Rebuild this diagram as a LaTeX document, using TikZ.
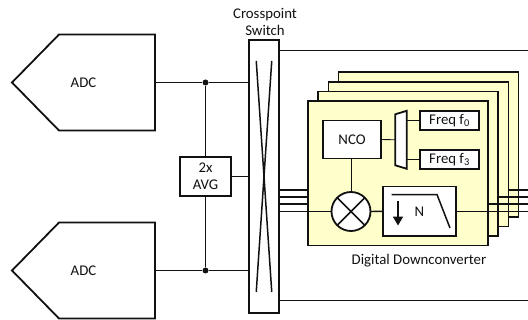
\documentclass[tikz,border=0pt]{standalone}
\usepackage{fontspec}
\setmainfont{Carlito}
\usetikzlibrary{arrows.meta,calc,positioning}
\definecolor{ddcfill}{HTML}{FFFFCC}
\definecolor{inkdark}{HTML}{111111}
\tikzset{
    ddc diagram/.style = {x=1pt, y=-1pt, font=\fontsize{14.8}{17.5}\selectfont,
                          draw=inkdark, text=inkdark},
    line/.style        = {draw=inkdark, line width=1.4pt},
    thin line/.style   = {draw=inkdark, line width=0.9pt},
    heavy/.style       = {draw=inkdark, line width=1.8pt},
    block/.style       = {heavy, fill=white, inner sep=0pt, outer sep=0pt},
    card/.style        = {heavy, fill=ddcfill, inner sep=0pt, outer sep=0pt,
                          minimum width=180pt, minimum height=144.5pt},
    freq/.style        = {block, minimum width=59pt, minimum height=19pt},
    adc/.style         = {inner sep=0pt, outer sep=0pt,
                          minimum width=143pt, minimum height=96pt},
    dot/.style         = {circle, fill=inkdark, inner sep=0pt, minimum size=6pt},
    caption/.style     = {align=center, inner sep=0pt}
}
\begin{document}
\begin{tikzpicture}[ddc diagram]
\useasboundingbox (0,0) rectangle (528,320);

% Converters, with the pointed side to the left
\node[adc] (adc1) at (83.5,82.5) {ADC};
\node[adc] (adc2) at (83.5,270.5) {ADC};
\foreach \a in {adc1, adc2}
    \draw[heavy, line join=miter] (\a.west) -- ($(\a.north west)+(47,0)$)
        -- (\a.north east) -- (\a.south east)
        -- ($(\a.south west)+(47,0)$) -- cycle;

% Crosspoint switch
\node[block, minimum width=29.5pt, minimum height=273pt] (switch) at (264,176.5) {};
\node[caption, above=4pt of switch, xshift=1pt] (switchlabel) {Crosspoint\\Switch};
\coordinate (xa) at ($(switch.north west)+(7,21)$);
\coordinate (xb) at ($(switch.north east)+(-7,21)$);
\coordinate (xc) at ($(switch.south west)+(7,-21)$);
\coordinate (xd) at ($(switch.south east)+(-7,-21)$);
\draw[line width=1.5pt] (xa) -- (xd);
\draw[line width=1.5pt] (xb) -- (xc);

% Averager between both converters
\node[block, minimum width=51pt, minimum height=39pt, align=center] (avg)
    at (205.5,176.5) {2x\\AVG};
\node[dot] (j1) at (205.5,82.5) {};
\node[dot] (j2) at (205.5,270.5) {};
\draw[line] (adc1.east) -- (j1) -- (j1 -| switch.west);
\draw[line] (adc2.east) -- (j2) -- (j2 -| switch.west);
\draw[line] (j1) -- (avg.north);
\draw[line] (j2) -- (avg.south);
\draw[line] (avg.east) -- (avg.east -| switch.west);

% Free outputs above and below the stack
\coordinate (outtop) at (528,50.5);
\coordinate (outbot) at (528,300.5);
\draw[line] (outtop -| switch.east) -- (outtop);
\draw[line] (outbot -| switch.east) -- (outbot);

% Stacked downconverter cards, back to front, each with its own output
\node[card] (card4) at (428.5,144.5) {};
\coordinate (o3) at (528,190);
\node[card] (card3) at (418.5,154.3) {};
\draw[line] (card3.east |- o3) -- (o3);
\coordinate (o2) at (528,197);
\node[card] (card2) at (408,163.8) {};
\draw[line] (card2.east |- o2) -- (o2);
\coordinate (o1) at (528,204);
\node[card] (card1) at (398,173.3) {};
\draw[line] (card1.east |- o1) -- (o1);

% Inputs from the switch
\foreach \y in {190, 197, 204}
    \draw[line] (switch.east |- 0,\y) -- (card1.west |- 0,\y);

% Front card contents
\node[block, minimum width=58pt, minimum height=38pt] (nco) at (352,139.5) {NCO};
\node[inner sep=0pt, outer sep=0pt, minimum width=11.5pt, minimum height=58pt]
    (mux) at (401,139.8) {};
\node[freq] (f0) at (449.5,120.5) {Freq f\textsubscript{0}};
\node[freq] (f3) at (449.5,159.3) {Freq f\textsubscript{3}};
\draw[thin line] (nco.east) -- (mux.west);
\draw[thin line] (f0.west) -- (f0.west -| mux.east);
\draw[thin line] (f3.west) -- (f3.west -| mux.east);
\draw[heavy, fill=white] (mux.north east) -- (mux.south east)
    -- ($(mux.south west)+(0,-3.5)$) -- ($(mux.north west)+(0,3.5)$) -- cycle;

\node[block, circle, minimum size=39pt] (mix) at (351,211.5) {};
\draw[line width=1.5pt] (mix.45) -- (mix.225);
\draw[line width=1.5pt] (mix.135) -- (mix.315);
\draw[thin line] (nco.south -| mix) -- (mix.north);

\node[block, minimum width=73pt, minimum height=49.5pt] (dec) at (419.5,211.3) {N};
\coordinate (fa) at ($(dec.north west)+(8.5,8)$);
\coordinate (fb) at ($(dec.north west)+(54,8)$);
\coordinate (fc) at ($(dec.north west)+(67,41.5)$);
\coordinate (ta) at ($(dec.north west)+(15,14.5)$);
\coordinate (tb) at ($(dec.north west)+(15,39)$);
\draw[line width=1.5pt] (fa) -- (fb) -- (fc);
\draw[line width=1.5pt, -{Triangle[length=9pt, width=10pt]}] (ta) -- (tb);

% Through path of the front card
\draw[line] (switch.east |- mix) -- (mix.west);
\draw[line] (mix.east) -- (dec.west);
\draw[line] (dec.east) -- (dec.east -| 528,0);

\node[caption, below=8pt of card1.south, xshift=21pt] (ddclabel) {Digital Downconverter};

\end{tikzpicture}
\end{document}
